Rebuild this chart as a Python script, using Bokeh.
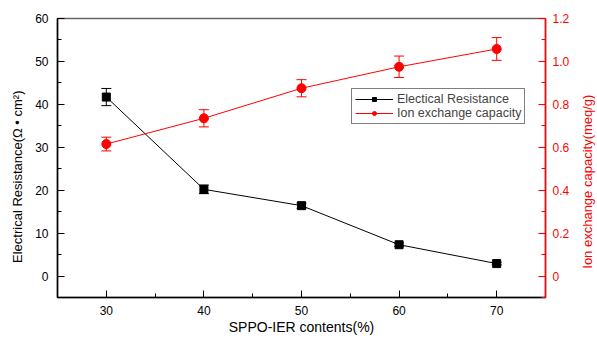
import math
from bokeh.plotting import figure
from bokeh.layouts import row
from bokeh.models import (Range1d, LinearAxis, FixedTicker, Whisker, ColumnDataSource,
                          Legend, LegendItem, TeeHead)
from bokeh.core.properties import value
from bokeh.embed import file_html
from bokeh.resources import INLINE

contents = [30, 40, 50, 60, 70]
resistance = [41.7, 20.2, 16.4, 7.3, 2.9]
resistance_err = [2.0, 1.0, 0.6, 0.4, 0.3]
capacity = [0.615, 0.735, 0.875, 0.975, 1.058]
capacity_err = [0.032, 0.04, 0.04, 0.05, 0.053]

x_ticks = [30, 40, 50, 60, 70]
x_minor = [25, 35, 45, 55, 65, 75]
left_ticks = [0, 10, 20, 30, 40, 50, 60]
left_minor = [-5, 5, 15, 25, 35, 45, 55]
right_ticks = [0, 0.2, 0.4, 0.6, 0.8, 1.0, 1.2]
right_minor = [-0.1, 0.1, 0.3, 0.5, 0.7, 0.9, 1.1]

left_title = "Electrical Resistance(\u03a9 \u2022 cm\u00b2)"
right_title = "Ion exchange capacity(meq/g)"
x_title = "SPPO-IER contents(%)"

FONT = "Liberation Sans"
RED = "#ff0000"
SIDE_H = 322

p = figure(frame_width=488, frame_height=279, output_backend="svg", toolbar_location=None,
           x_range=Range1d(25, 75), y_range=Range1d(-5, 60),
           min_border_left=27, min_border_top=18, min_border_right=30, min_border_bottom=30)
p.extra_y_ranges = {"right": Range1d(-0.1, 1.2)}
p.grid.visible = False
p.outline_line_color = "#666666"
p.outline_line_width = 1.5
p.background_fill_color = "white"

def style_axis(ax, color="black"):
    ax.axis_line_color = color
    ax.axis_line_width = 1.5
    ax.major_tick_line_color = color
    ax.minor_tick_line_color = color
    ax.major_tick_in = 7
    ax.major_tick_out = 0
    ax.minor_tick_in = 4
    ax.minor_tick_out = 0
    ax.major_label_text_font = FONT
    ax.major_label_text_font_size = "12px"
    ax.major_label_text_color = color
    ax.axis_label_text_font = FONT
    ax.axis_label_text_font_style = "normal"
    ax.axis_label_text_color = color

xa = p.xaxis[0]
style_axis(xa)
xa.ticker = FixedTicker(ticks=x_ticks, minor_ticks=x_minor)
xa.axis_label = x_title
xa.axis_label_text_font_size = "14px"
xa.major_label_standoff = 8
xa.axis_label_standoff = 1

ya = p.yaxis[0]
style_axis(ya)
ya.ticker = FixedTicker(ticks=left_ticks, minor_ticks=left_minor)
ya.major_label_standoff = 9

ra = LinearAxis(y_range_name="right")
style_axis(ra, RED)
ra.ticker = FixedTicker(ticks=right_ticks, minor_ticks=right_minor)
ra.major_label_overrides = {0: "0", 0.2: "0.2", 0.4: "0.4", 0.6: "0.6", 0.8: "0.8", 1.0: "1.0", 1.2: "1.2"}
ra.major_label_standoff = 7
p.add_layout(ra, "right")

src_r = ColumnDataSource(dict(x=contents, y=resistance,
                              lo=[v - e for v, e in zip(resistance, resistance_err)],
                              hi=[v + e for v, e in zip(resistance, resistance_err)]))
src_c = ColumnDataSource(dict(x=contents, y=capacity,
                              lo=[v - e for v, e in zip(capacity, capacity_err)],
                              hi=[v + e for v, e in zip(capacity, capacity_err)]))

wr = Whisker(source=src_r, base="x", lower="lo", upper="hi", line_color="black",
             upper_head=TeeHead(size=10, line_color="black"),
             lower_head=TeeHead(size=10, line_color="black"))
wc = Whisker(source=src_c, base="x", lower="lo", upper="hi", line_color=RED,
             upper_head=TeeHead(size=10, line_color=RED),
             lower_head=TeeHead(size=10, line_color=RED), y_range_name="right")
p.add_layout(wr)
p.add_layout(wc)

lr = p.line("x", "y", source=src_r, line_color="black", line_width=1)
mr = p.scatter("x", "y", source=src_r, marker="square", size=8, color="black")
lc = p.line("x", "y", source=src_c, line_color=RED, line_width=1, y_range_name="right")
mc = p.scatter("x", "y", source=src_c, marker="circle", size=9, color=RED, y_range_name="right")

legend = Legend(items=[LegendItem(label="Electical Resistance", renderers=[lr, mr]),
                       LegendItem(label="Ion exchange capacity", renderers=[lc, mc])],
                location=(294, 173), border_line_color="black", border_line_width=1,
                label_text_font=FONT, label_text_font_size="12.5px",
                glyph_width=38, glyph_height=10, label_height=10, spacing=0,
                padding=3, margin=0, label_standoff=4, background_fill_alpha=1)
p.add_layout(legend)

def side_panel(width, text, color, cx, cy):
    s = figure(width=width, height=SIDE_H, output_backend="svg", toolbar_location=None,
               x_range=Range1d(0, width), y_range=Range1d(0, SIDE_H),
               min_border=0, min_border_left=0, min_border_right=0,
               min_border_top=0, min_border_bottom=0)
    s.axis.visible = False
    s.grid.visible = False
    s.outline_line_color = None
    s.text(x=[cx], y=[SIDE_H - cy], text=[text], angle=math.pi / 2,
           text_align="center", text_baseline="middle",
           text_font=value(FONT), text_font_size="13px", text_color=color)
    return s

left_panel = side_panel(30, left_title, "black", 16.5, 193)
right_panel = side_panel(21, right_title, RED, 12, 199)

layout = row(left_panel, p, right_panel, spacing=0)
open("out.html", "w").write(file_html(layout, INLINE))
